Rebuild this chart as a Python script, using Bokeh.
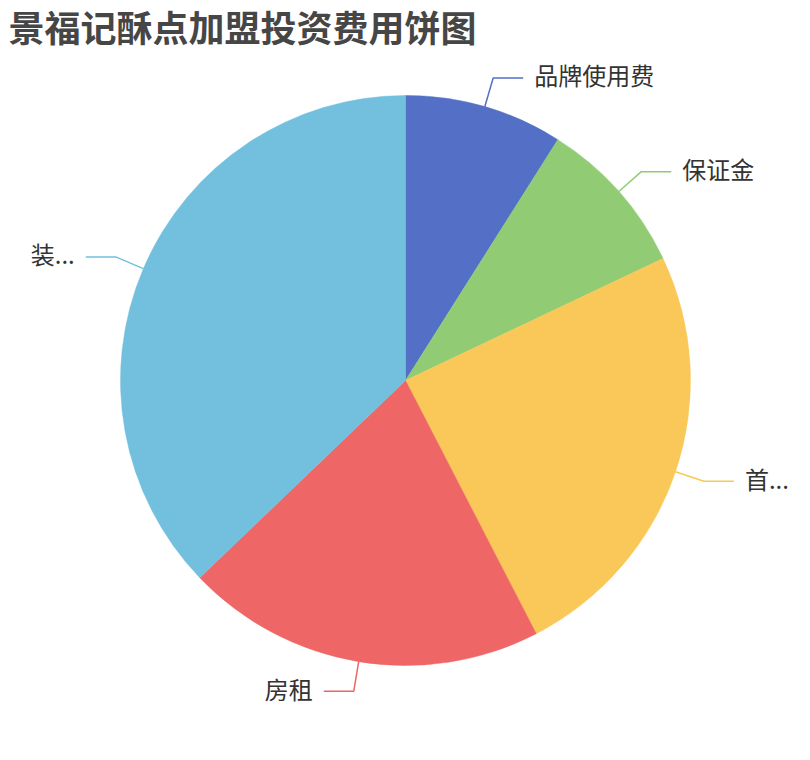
import math
from bokeh.plotting import figure
from bokeh.models import ColumnDataSource, Range1d
from bokeh.core.properties import value
from bokeh.embed import file_html
from bokeh.resources import INLINE

# ---- data ----
title_text = "景福记酥点加盟投资费用饼图"
categories = ["品牌使用费", "保证金", "首...", "房租", "装..."]
values = [2.0, 2.0, 5.45, 4.55, 8.28]
colors = ["#5470c6", "#91cc75", "#fac858", "#ee6666", "#73c0de"]

W, H = 794, 744
cx, cy = 405, H - 380
R = 285
len1, len2, gap = 30, 30, 11
FONT = "Noto Sans CJK SC"

p = figure(width=W, height=H, output_backend="svg", toolbar_location=None,
           x_range=Range1d(0, W), y_range=Range1d(0, H),
           x_axis_type=None, y_axis_type=None, min_border=0)
p.grid.visible = False
p.outline_line_color = None
p.background_fill_color = "white"
p.border_fill_color = "white"

total = sum(values)
starts, ends = [], []
cum = 0.0
lxs, lys, tx, ty, aligns = [], [], [], [], []
for v in values:
    a0 = cum / total * 2 * math.pi
    cum += v
    a1 = cum / total * 2 * math.pi
    # bokeh angles: anticlockwise from +x; pie goes clockwise from top
    starts.append(math.pi / 2 - a1)
    ends.append(math.pi / 2 - a0)
    mid = (a0 + a1) / 2
    sx, sy = math.sin(mid), math.cos(mid)
    x1, y1 = cx + R * sx, cy + R * sy
    x2, y2 = cx + (R + len1) * sx, cy + (R + len1) * sy
    side = 1 if sx >= 0 else -1
    x3 = x2 + side * len2
    lxs.append([x1, x2, x3])
    lys.append([y1, y2, y2])
    tx.append(x3 + side * gap)
    ty.append(y2 + 3)
    aligns.append("left" if side > 0 else "right")

src = ColumnDataSource(dict(start=starts, end=ends, color=colors,
                            cat=categories, val=values))
p.wedge(x=cx, y=cy, radius=R, start_angle="start", end_angle="end",
        fill_color="color", line_color="color", line_width=0.5, source=src)

lsrc = ColumnDataSource(dict(xs=lxs, ys=lys, color=colors))
p.multi_line(xs="xs", ys="ys", line_color="color", line_width=1.5, source=lsrc)

tsrc = ColumnDataSource(dict(x=tx, y=ty, t=categories, align=aligns))
p.text(x="x", y="y", text="t", text_align="align", text_baseline="middle",
       text_font=value(FONT), text_font_size="24px", text_color="#333333",
       source=tsrc)

p.text(x=[8], y=[H - 25], text=[title_text], text_align="left",
       text_baseline="middle", text_font=value(FONT), text_font_size="36px",
       text_font_style="bold", text_color="#464646")

open("out.html", "w").write(file_html(p, INLINE))
